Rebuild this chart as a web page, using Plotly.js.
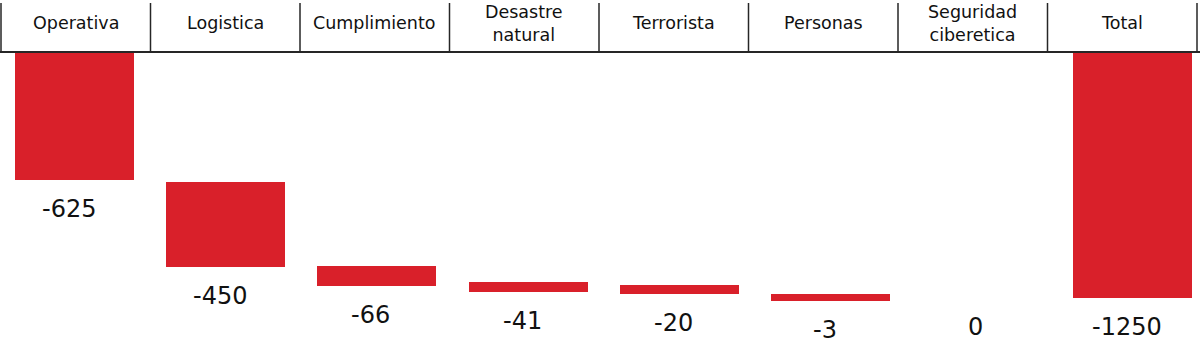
<!DOCTYPE html>
<html>
<head>
<meta charset="utf-8">
<script src="https://cdn.plot.ly/plotly-3.0.1.min.js"></script>
<style>
  html, body { margin: 0; padding: 0; background: #ffffff; }
  #chart { width: 1200px; height: 346px; }
</style>
</head>
<body>
<div id="chart"></div>
<script>
// Categories shown in the header row
const categories = ["Operativa", "Logistica", "Cumplimiento", "Desastre<br>natural",
                    "Terrorista", "Personas", "Seguridad<br>ciberetica", "Total"];
// Values printed under each bar
const values = [-625, -450, -66, -41, -20, -3, 0, -1250];
// Drawn extent of each bar (same value scale)
const barTop    = [0, -663, -1087, -1167, -1185, -1230, -1250, 0];
const barBottom = [-650, -1090, -1187, -1220, -1230, -1267, -1250, -1250];

const W = 1200, H = 346;
const headerBottom = 52;           // px
const pxPerUnit = 246 / 1250;      // vertical scale
const yMax = headerBottom / pxPerUnit;
const yMin = -(H - headerBottom) / pxPerUnit;

const xIdx = categories.map((c, i) => i);
const barColor = "#d9202a";
const font = "'DejaVu Sans', 'Noto Sans', sans-serif";

const trace = {
  type: "bar",
  x: xIdx,
  base: barTop,
  y: barTop.map((t, i) => barBottom[i] - t),
  width: 0.787,
  marker: { color: barColor, line: { width: 0 } },
  hoverinfo: "skip",
  showlegend: false
};

const shapes = [];
const pY = px => 1 - px / H;
// horizontal header line
shapes.push({ type: "line", xref: "paper", yref: "paper", x0: 0, x1: 1,
  y0: pY(headerBottom), y1: pY(headerBottom), line: { color: "#262626", width: 2 } });
// vertical header separators
const colW = 149.5, colX0 = 1;
for (let k = 0; k <= categories.length; k++) {
  const xp = (colX0 + colW * k) / W;
  shapes.push({ type: "line", xref: "paper", yref: "paper", x0: xp, x1: xp,
    y0: pY(3), y1: pY(headerBottom), line: { color: "#262626", width: 1.5 } });
}

const annotations = [];
categories.forEach((c, k) => {
  annotations.push({
    xref: "paper", yref: "paper",
    x: (colX0 + colW * (k + 0.5)) / W, y: pY(23),
    xanchor: "center", yanchor: "middle",
    text: c, showarrow: false, align: "center",
    font: { family: font, size: 17.5, color: "#111111" }
  });
});
values.forEach((v, k) => {
  annotations.push({
    xref: "x", yref: "y", x: k, y: barBottom[k],
    xanchor: "center", yanchor: "middle", yshift: -29, xshift: -6,
    text: String(v), showarrow: false,
    font: { family: font, size: 24, color: "#111111" }
  });
});

const layout = {
  width: W, height: H,
  margin: { l: 0, r: 0, t: 0, b: 0, pad: 0 },
  paper_bgcolor: "#ffffff", plot_bgcolor: "#ffffff",
  xaxis: { range: [-74.5 / 151.2, (W - 74.5) / 151.2], visible: false, fixedrange: true },
  yaxis: { range: [yMin, yMax], visible: false, fixedrange: true },
  bargap: 0,
  shapes: shapes,
  annotations: annotations,
  showlegend: false
};

Plotly.newPlot("chart", [trace], layout, { displayModeBar: false, staticPlot: true });
</script>
</body>
</html>
